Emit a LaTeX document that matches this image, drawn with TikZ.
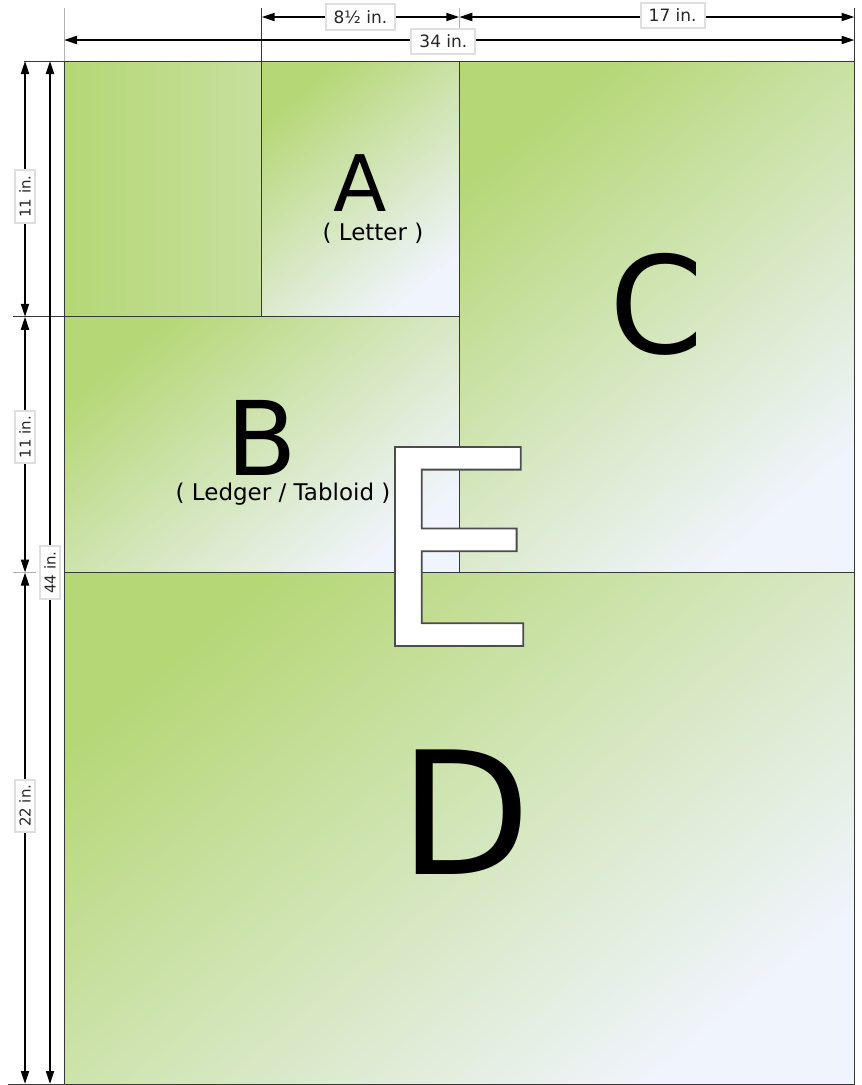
\documentclass[tikz,border=0pt]{standalone}
\usepackage{fontspec}
\setmainfont{DejaVu Sans}
\usetikzlibrary{arrows.meta}

\definecolor{leafgreen}{RGB}{181,215,117}
\definecolor{paleblue}{RGB}{240,244,252}
\definecolor{edgegray}{RGB}{55,55,55}

% Outlined glyphs: white fill, gray stroke
\newcommand{\hollowtext}[1]{\special{pdf:literal direct 0.3 0.3 0.3 RG 1.8 w 2 Tr}#1\special{pdf:literal direct 0 Tr}}

\tikzset{
  sheet/.style={draw=edgegray, line width=0.9pt, top color=leafgreen, bottom color=paleblue, shading angle=40},
  dimline/.style={line width=2pt, {Triangle[length=13pt,width=8pt]}-{Triangle[length=13pt,width=8pt]}},
  extline/.style={line width=0.9pt, edgegray},
  tickline/.style={line width=0.9pt, gray!60},
  dimlabel/.style={fill=white, draw=gray!25, text=black!85, inner xsep=8pt, inner ysep=6pt, font=\fontsize{17}{19}\selectfont},
  sidelabel/.style={dimlabel, rotate=90, inner xsep=5pt, inner ysep=4pt, font=\fontsize{15}{17}\selectfont},
  bigletter/.style={anchor=base, inner sep=0pt},
  subtitle/.style={anchor=base, inner sep=0pt, font=\fontsize{23}{25}\selectfont}
}

\begin{document}
\begin{tikzpicture}[x=23.25pt, y=-23.25pt]
      % Page size, origin at the top left corner of the D sheet
      \useasboundingbox (-2.7527,-2.6237) rectangle (34.280,44.043);
      % Height of the top dimension lines
      \def\toprow{-1.892}
      \def\widerow{-0.903}
      % Left dimension lines
      \def\sidecol{-1.677}
      \def\fullcol{-0.602}
      % Quarter sheet in the corner
      \draw[draw=edgegray, line width=0.9pt, left color=leafgreen, right color=leafgreen!70!paleblue] (0,0) rectangle (8.5,11);
      % Sheets A, B, C and D
      \foreach \x/\y/\w/\h in {8.5/0/8.5/11, 0/11/17/11, 17/0/17/22, 0/22/34/22} {
        \draw[sheet] (\x,\y) rectangle ++(\w,\h);
      }
      % Extension lines
      \draw[tickline] (0,-2.28) -- (0,0);
      \draw[extline] (8.5,-2.28) -- (8.5,0);
      \draw[tickline] (17,-2.28) -- (17,-1.42);
      \draw[extline] (34,-2.28) -- (34,0);
      \draw[extline] (-1.72,0) -- (0,0);
      \draw[extline] (-2.19,11) -- (0,11);
      \draw[tickline] (-2.19,22) -- (-1.20,22);
      \draw[extline] (-2.41,44) -- (0,44);
      % Top dimension lines
      \coordinate (hA) at (8.5,\toprow);
      \coordinate (hB) at (17,\toprow);
      \coordinate (hC) at (34,\toprow);
      \coordinate (wL) at (0,\widerow);
      \coordinate (wR) at (34,\widerow);
      \draw[dimline] (hA) -- node[dimlabel] (lblHalf) {8½ in.} (hB);
      \draw[dimline] (hB) -- node[dimlabel, pos=0.54, yshift=1.5pt] (lblSeventeen) {17 in.} (hC);
      \draw[dimline] (wL) -- node[dimlabel, pos=0.48, yshift=-1.5pt] (lblWide) {34 in.} (wR);
      % Left dimension lines
      \foreach \a/\b/\p in {0/11/0.53, 11/22/0.47, 22/44/0.456} {
        \pgfmathtruncatemacro{\len}{\b-\a}
        \coordinate (s\a) at (\sidecol,\a);
        \coordinate (e\a) at (\sidecol,\b);
        \draw[dimline] (s\a) -- node[sidelabel, pos=\p] (lblSide\a) {\len\ in.} (e\a);
      }
      \coordinate (fTop) at (\fullcol,0);
      \coordinate (fBot) at (\fullcol,44);
      \draw[dimline] (fTop) -- node[sidelabel] (lblTall) {44 in.} (fBot);
      % Sheet letters
      \node[bigletter, font=\fontsize{78}{80}\selectfont] (letA) at (12.72,6.49) {A};
      \node[subtitle] (subA) at (13.29,7.70) {( Letter )};
      \node[bigletter, font=\fontsize{103}{105}\selectfont] (letB) at (8.52,17.81) {B};
      \node[subtitle] (subB) at (9.42,18.92) {( Ledger / Tabloid )};
      \node[bigletter, font=\fontsize{135}{137}\selectfont] (letC) at (25.50,12.58) {C};
      \node[bigletter, font=\fontsize{171}{173}\selectfont] (letD) at (17.25,35.01) {D};
      \node[bigletter, text=white, font=\fontsize{273}{275}\selectfont] (letE) at (16.79,25.16) {\hollowtext{E}};
    \end{tikzpicture}
\end{document}
